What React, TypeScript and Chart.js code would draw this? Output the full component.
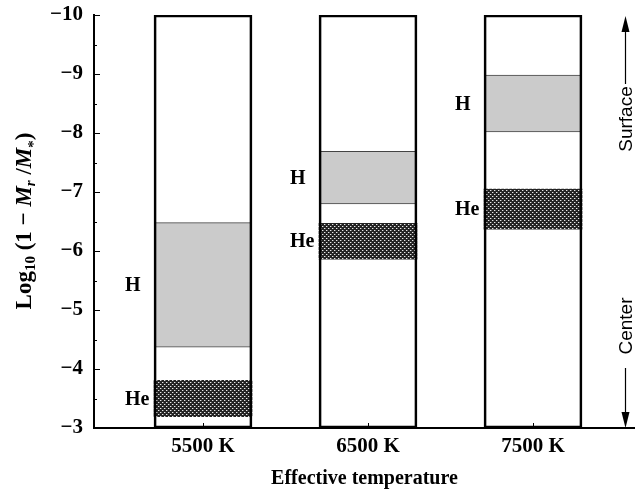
import React, { useEffect, useRef } from "react";
import { Chart, registerables } from "chart.js";

Chart.register(...registerables);

// ---- data ----
const categories = ["5500 K", "6500 K", "7500 K"];
const categoryPositions = [1, 2, 3];
const envelopeTop = [-10, -10, -10];
const envelopeBottom = [-3, -3, -3];
const hTop = [-6.48, -7.69, -8.98];
const hBottom = [-4.37, -6.8, -8.02];
const heTop = [-3.81, -6.47, -7.05];
const heBottom = [-3.19, -5.86, -6.37];
const zoneLabels = ["H", "He"];
const yTickValues = [-10, -9, -8, -7, -6, -5, -4, -3];
const yMinorTickValues = [-9.5, -8.5, -7.5, -6.5, -5.5, -4.5, -3.5];
const xTitle = "Effective temperature";
const surfaceLabel = "Surface";
const centerLabel = "Center";

const SERIF = '"Liberation Serif", "Times New Roman", serif';
const SANS = '"Liberation Sans", Arial, sans-serif';

function makePattern(): CanvasPattern | string {
  const c = document.createElement("canvas");
  c.width = 4;
  c.height = 4;
  const g = c.getContext("2d");
  if (!g) return "#333";
  g.fillStyle = "#242424";
  g.fillRect(0, 0, 4, 4);
  g.fillStyle = "#e8e8e8";
  g.fillRect(0, 0, 1, 1);
  g.fillRect(2, 2, 1, 1);
  g.fillStyle = "#6e6e6e";
  g.fillRect(1, 0, 1, 1);
  g.fillRect(3, 2, 1, 1);
  const p = g.createPattern(c, "repeat");
  return p || "#333";
}

const annotationPlugin = {
  id: "annotations",
  afterDatasetsDraw(chart: any) {
    const ctx: CanvasRenderingContext2D = chart.ctx;
    const { top, bottom, left } = chart.chartArea;
    const ys = chart.scales.y;
    const xs = chart.scales.x;
    ctx.save();
    // inward ticks
    ctx.strokeStyle = "#000";
    ctx.lineWidth = 1;
    ctx.beginPath();
    yTickValues.forEach((v) => {
      const py = Math.round(ys.getPixelForValue(v)) + 0.5;
      ctx.moveTo(left, py);
      ctx.lineTo(left + 6, py);
    });
    yMinorTickValues.forEach((v) => {
      const py = Math.round(ys.getPixelForValue(v)) + 0.5;
      ctx.moveTo(left, py);
      ctx.lineTo(left + 3, py);
    });
    categoryPositions.forEach((v) => {
      const px = Math.round(xs.getPixelForValue(v)) + 0.5;
      ctx.moveTo(px, bottom);
      ctx.lineTo(px, bottom - 5);
    });
    ctx.stroke();

    // zone labels
    ctx.fillStyle = "#000";
    ctx.font = `bold 20px ${SERIF}`;
    ctx.textAlign = "left";
    ctx.textBaseline = "middle";
    [1, 2].forEach((dsIdx, k) => {
      chart.getDatasetMeta(dsIdx).data.forEach((el: any) => {
        const p = el.getProps(["x", "y", "base", "width"], true);
        ctx.fillText(zoneLabels[k], p.x - p.width / 2 - 29, (p.y + p.base) / 2 + 1);
      });
    });

    // Surface / Center arrows
    const ax = 625.5;
    ctx.lineWidth = 1.2;
    ctx.beginPath();
    ctx.moveTo(ax, top + 69);
    ctx.lineTo(ax, top + 14);
    ctx.moveTo(ax, bottom - 60);
    ctx.lineTo(ax, bottom - 14);
    ctx.stroke();
    ctx.beginPath();
    ctx.moveTo(ax, top + 1);
    ctx.lineTo(ax - 4, top + 17);
    ctx.lineTo(ax + 4, top + 17);
    ctx.closePath();
    ctx.moveTo(ax, bottom);
    ctx.lineTo(ax - 4, bottom - 16);
    ctx.lineTo(ax + 4, bottom - 16);
    ctx.closePath();
    ctx.fill();

    ctx.font = `19px ${SANS}`;
    ctx.textAlign = "center";
    ctx.textBaseline = "middle";
    ctx.save();
    ctx.translate(ax + 1, top + 104);
    ctx.rotate(-Math.PI / 2);
    ctx.fillText(surfaceLabel, 0, 0);
    ctx.restore();
    ctx.save();
    ctx.translate(ax + 1, bottom - 102);
    ctx.rotate(-Math.PI / 2);
    ctx.fillText(centerLabel, 0, 0);
    ctx.restore();

    // y-axis title with sub/superscripts
    const parts = [
      { t: "Log", f: `bold 23px ${SERIF}`, dy: 0 },
      { t: "10", f: `bold 15px ${SERIF}`, dy: 4 },
      { t: " (1 \u2212 ", f: `bold 23px ${SERIF}`, dy: 0 },
      { t: "M", f: `italic bold 23px ${SERIF}`, dy: 0 },
      { t: "r", f: `italic bold 15px ${SERIF}`, dy: 4 },
      { t: " /", f: `bold 23px ${SERIF}`, dy: 0 },
      { t: "M", f: `italic bold 23px ${SERIF}`, dy: 0 },
      { t: "*", f: `bold 15px ${SERIF}`, dy: 7 },
      { t: ")", f: `bold 23px ${SERIF}`, dy: 0 },
    ];
    let total = 0;
    const widths = parts.map((p) => {
      ctx.font = p.f;
      const w = ctx.measureText(p.t).width;
      total += w;
      return w;
    });
    ctx.save();
    ctx.translate(24, 221);
    ctx.rotate(-Math.PI / 2);
    ctx.textAlign = "left";
    ctx.textBaseline = "alphabetic";
    let cx = -total / 2;
    parts.forEach((p, i) => {
      ctx.font = p.f;
      ctx.fillText(p.t, cx, 7 + p.dy);
      cx += widths[i];
    });
    ctx.restore();

    ctx.restore();
  },
};

export default function App() {
  const ref = useRef<HTMLCanvasElement | null>(null);
  useEffect(() => {
    if (!ref.current) return;
    const pattern = makePattern();
    const toData = (lo: number[], hi: number[]) =>
      categoryPositions.map((x, i) => ({ x, y: [lo[i], hi[i]] }));
    const chart = new Chart(ref.current, {
      type: "bar",
      data: {
        datasets: [
          {
            label: "frame",
            data: toData(envelopeBottom, envelopeTop) as any,
            backgroundColor: "rgba(255,255,255,0)",
            borderColor: "#000",
            borderWidth: 2,
            borderSkipped: false,
            order: 0,
          },
          {
            label: "H",
            data: toData(hBottom, hTop) as any,
            backgroundColor: "#cbcbcb",
            borderColor: "#444",
            borderWidth: { top: 1, bottom: 1, left: 0, right: 0 },
            borderSkipped: false,
            order: 2,
          },
          {
            label: "He",
            data: toData(heBottom, heTop) as any,
            backgroundColor: pattern as any,
            borderWidth: 0,
            borderSkipped: false,
            order: 1,
          },
        ],
      },
      options: {
        responsive: false,
        animation: false,
        devicePixelRatio: 1,
        layout: { padding: { top: 15, left: 0, right: 0, bottom: 0 } },
        datasets: { bar: { grouped: false, barThickness: 98 } } as any,
        plugins: {
          legend: { display: false },
          tooltip: { enabled: false },
          title: { display: false },
        },
        scales: {
          x: {
            type: "linear",
            offset: false,
            min: 1 - 109 / 165,
            max: 1 - 109 / 165 + 541 / 165,
            grid: { display: false, drawTicks: false },
            border: { display: true, color: "#000", width: 2 },
            afterBuildTicks: (scale: any) => {
              scale.ticks = categoryPositions.map((v) => ({ value: v }));
            },
            afterFit: (scale: any) => {
              scale.height = 65;
              scale.paddingLeft = 0;
              scale.paddingRight = 0;
            },
            ticks: {
              padding: 6,
              maxRotation: 0,
              autoSkip: false,
              color: "#000",
              font: { family: SERIF, size: 21, weight: "bold" },
              callback: (_v: any, i: number) => categories[i],
            },
            title: {
              display: true,
              text: xTitle,
              color: "#000",
              font: { family: SERIF, size: 20, weight: "bold" },
              padding: { top: 0, bottom: 2 },
            },
          },
          y: {
            type: "linear",
            reverse: true,
            min: -10,
            max: -3,
            beginAtZero: false,
            grid: { display: false, drawTicks: false },
            border: { display: true, color: "#000", width: 2 },
            afterBuildTicks: (scale: any) => {
              scale.ticks = yTickValues.map((v) => ({ value: v }));
            },
            afterFit: (scale: any) => {
              scale.width = 94;
              scale.paddingTop = 0;
              scale.paddingBottom = 0;
            },
            ticks: {
              padding: 11,
              color: "#000",
              font: { family: SERIF, size: 21, weight: "bold" },
              callback: (v: any) => String(v).replace("-", "\u2212"),
            },
          },
        },
      } as any,
      plugins: [annotationPlugin],
    });
    return () => chart.destroy();
  }, []);
  return (
    <div style={{ position: "absolute", left: 0, top: 0, width: 635, height: 493, background: "#fff" }}>
      <canvas ref={ref} width={635} height={493} style={{ display: "block", width: 635, height: 493 }} />
    </div>
  );
}
